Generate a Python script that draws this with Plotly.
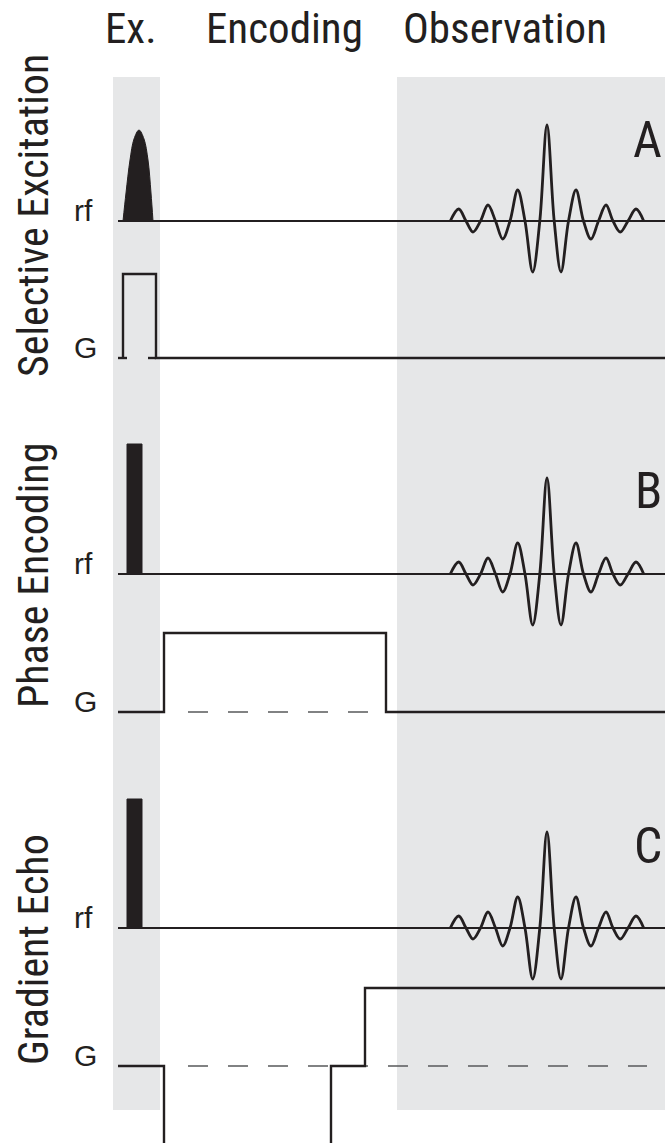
import plotly.graph_objects as go

# ---------------- data (time in a.u. along x, amplitude in a.u. along y) -------------
W, H = 665, 1143
seq_start, seq_end = 118, 665
ex_window = [113, 160]
obs_window = [397, 665]
window_span = [33, 1066]

col_labels = ["Ex.", "Encoding", "Observation"]
col_label_x = [131, 284, 505]
row_labels = ["Selective Excitation", "Phase Encoding", "Gradient Echo"]
row_label_y = [927, 567, 193]
panel_letters = ["A", "B", "C"]
rf_base = [922, 569, 215]
g_base = [785, 431, 77]

# A: selective (sinc-lobe) rf pulse
sinc_t = [123, 126, 130, 134, 139, 144, 148, 151, 153]
sinc_a = [0, 28, 61, 82, 91, 82, 61, 28, 0]
# B, C: hard rf pulse
hard_t = [127, 142]
hard_a = [130, 129]

# echo signal (offset from echo centre, amplitude)
echo_center = 547
echo_dt = [-96.7, -88.3, -81, -74, -66.5, -59, -51.5, -44.3, -37, -29.3, -22, -14.3, -7.2,
           0, 7.2, 14, 21.5, 29, 36.5, 44, 51.5, 59, 66, 73.3, 81, 89, 96.7]
echo_a = [0, 12, 0, -11, 0, 16, 0, -18, 0, 31, 0, -51, 0,
          96, 0, -51, 0, 31, 0, -18, 0, 16, 0, -11, 0, 12, 0]

# gradient waveforms (time, amplitude), None = pen up
gA_t = [118, 127, None, 148, 156, None, 123, 123, 156, 156, 665]
gA_a = [0, 0, None, 0, 0, None, 0, 84, 84, 0, 0]
gB_t = [118, 164, 164, 386, 386, 665]
gB_a = [0, 0, 79, 79, 0, 0]
gC_t = [118, 164, 164, 331, 331, 365, 365, 665]
gC_a = [0, 0, -160, -160, 0, 0, 78, 78]
dash_B = [188, 368]
dash_C = [188, 647]

INK = "#231f20"
GRAY = "#e6e7e8"
NARROW = "Liberation Sans Narrow, Arial Narrow, Roboto Condensed, sans-serif"
SANS = "Liberation Sans, Arial, sans-serif"

fig = go.Figure()

def line(x, y, w=2.2, color=INK, dash=None, shape="linear", fill=None):
    fig.add_trace(go.Scatter(x=x, y=y, mode="lines", fill=fill, fillcolor=color,
                             line=dict(color=color, width=w, dash=dash, shape=shape),
                             hoverinfo="skip", showlegend=False))

for i in range(3):
    rb, gb = rf_base[i], g_base[i]
    # rf baseline
    line([seq_start, seq_end], [rb, rb], w=2)
    # rf pulse
    if i == 0:
        line(sinc_t, [rb + a for a in sinc_a], w=1, shape="spline", fill="toself")
    else:
        x0, x1 = hard_t
        h = hard_a[i - 1]
        line([x0, x0, x1, x1, x0], [rb, rb + h, rb + h, rb, rb], w=1, fill="toself")
    # echo
    line([echo_center + d for d in echo_dt], [rb + a for a in echo_a], w=2.8, shape="spline")

# gradients
line(gA_t, [None if a is None else g_base[0] + a for a in gA_a], w=2.4)
line(dash_B, [g_base[1]] * 2, w=1.3, color="#58595b", dash="20px,20px")
line(gB_t, [g_base[1] + a for a in gB_a], w=2.4)
line(dash_C, [g_base[2]] * 2, w=1.3, color="#58595b", dash="20px,20px")
line(gC_t, [g_base[2] + a for a in gC_a], w=2.4)

shapes = []
for win in (ex_window, obs_window):
    shapes.append(dict(type="rect", xref="x", yref="y", x0=win[0], x1=win[1],
                       y0=window_span[0], y1=window_span[1], fillcolor=GRAY,
                       line=dict(width=0), layer="below"))

ann = []
for lab, x in zip(col_labels, col_label_x):
    ann.append(dict(x=x, y=H - 28, text=lab, showarrow=False, xanchor="center", yanchor="middle",
                    font=dict(family=NARROW, size=43, color=INK)))
for lab, y in zip(row_labels, row_label_y):
    ann.append(dict(x=33, y=y, text=lab, showarrow=False, textangle=-90, xanchor="center",
                    yanchor="middle", font=dict(family=NARROW, size=42, color=INK)))
for i in range(3):
    ann.append(dict(x=72, y=rf_base[i] + 11, text="rf", showarrow=False, xanchor="left",
                    yanchor="middle", font=dict(family=SANS, size=30, color=INK)))
    ann.append(dict(x=72, y=g_base[i] + 11, text="G", showarrow=False, xanchor="left",
                    yanchor="middle", font=dict(family=SANS, size=30, color=INK)))
letter_y = [1003, 652, 297]
for lab, y in zip(panel_letters, letter_y):
    ann.append(dict(x=664, y=y, text=lab, showarrow=False, xanchor="right", yanchor="middle",
                    font=dict(family=NARROW, size=50, color=INK)))

fig.update_layout(width=W, height=H, margin=dict(l=0, r=0, t=0, b=0),
                  paper_bgcolor="white", plot_bgcolor="white",
                  xaxis=dict(range=[0, W], visible=False, fixedrange=True),
                  yaxis=dict(range=[0, H], visible=False, fixedrange=True),
                  shapes=shapes, annotations=ann)
fig.write_html("out.html")
